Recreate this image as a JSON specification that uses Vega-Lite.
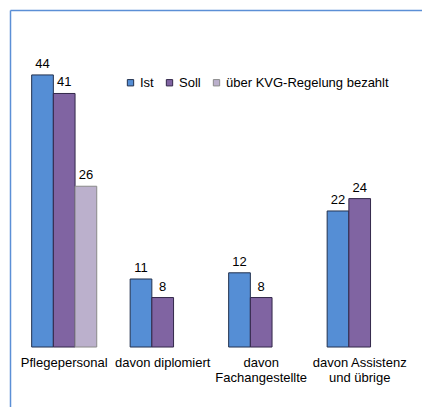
{
  "$schema": "https://vega.github.io/schema/vega-lite/v6.json",
  "autosize": "none",
  "width": 412,
  "height": 397,
  "padding": {"left": 10, "top": 10, "right": 0, "bottom": 0},
  "background": "white",
  "config": {
    "view": {"stroke": null},
    "font": "Liberation Sans",
    "text": {"font": "Liberation Sans", "fontSize": 13, "color": "black"}
  },
  "data": {
    "values": [
      {"category": "Pflegepersonal", "series": "Ist", "value": 44},
      {"category": "Pflegepersonal", "series": "Soll", "value": 41},
      {"category": "Pflegepersonal", "series": "über KVG-Regelung bezahlt", "value": 26},
      {"category": "davon diplomiert", "series": "Ist", "value": 11},
      {"category": "davon diplomiert", "series": "Soll", "value": 8},
      {"category": "davon\nFachangestellte", "series": "Ist", "value": 12},
      {"category": "davon\nFachangestellte", "series": "Soll", "value": 8},
      {"category": "davon Assistenz\nund übrige", "series": "Ist", "value": 22},
      {"category": "davon Assistenz\nund übrige", "series": "Soll", "value": 24}
    ]
  },
  "encoding": {
    "x": {
      "field": "category",
      "type": "nominal",
      "sort": null,
      "scale": {"paddingInner": 0, "paddingOuter": 0.0914, "align": 0.275},
      "axis": {"orient": "top", "domainColor": "#5b8fd6", "domainWidth": 1.5, "ticks": false, "labels": false, "title": null, "grid": false}
    }
  },
  "layer": [
    {
      "mark": {"type": "bar", "strokeWidth": 1},
      "encoding": {
        "xOffset": {
          "field": "series",
          "type": "nominal",
          "scale": {"domain": ["Ist", "Soll", "über KVG-Regelung bezahlt"], "paddingInner": 0, "paddingOuter": 0.77}
        },
        "y": {
          "field": "value",
          "type": "quantitative",
          "scale": {"domain": [-9.7, 54.5], "nice": false, "zero": false},
          "axis": {"orient": "left", "domainColor": "#5b8fd6", "domainWidth": 1.5, "ticks": false, "labels": false, "title": null, "grid": false}
        },
        "y2": {"datum": 0},
        "fill": {
          "field": "series",
          "type": "nominal",
          "scale": {"domain": ["Ist", "Soll", "über KVG-Regelung bezahlt"], "range": ["#558ed5", "#8064a2", "#bbb0cc"]},
          "legend": {
            "orient": "none",
            "direction": "horizontal",
            "legendX": 114,
            "legendY": 66,
            "title": null,
            "padding": 0,
            "symbolType": "square",
            "symbolSize": 40,
            "symbolStrokeWidth": 1,
            "labelFont": "Liberation Sans",
            "labelFontSize": 13,
            "labelColor": "black",
            "labelOffset": 3,
            "columnPadding": 9,
            "labelLimit": 300
          }
        },
        "stroke": {
          "field": "series",
          "type": "nominal",
          "scale": {"domain": ["Ist", "Soll", "über KVG-Regelung bezahlt"], "range": ["#22314f", "#33284a", "#8a8a8a"]}
        }
      }
    },
    {
      "mark": {"type": "text", "baseline": "alphabetic", "dy": -7},
      "encoding": {
        "xOffset": {"field": "series", "type": "nominal"},
        "y": {"field": "value", "type": "quantitative"},
        "text": {"field": "value", "type": "quantitative"}
      }
    },
    {
      "transform": [{"aggregate": [{"op": "count", "as": "n"}], "groupby": ["category"]}],
      "mark": {"type": "text", "baseline": "top", "lineBreak": "\n", "lineHeight": 15},
      "encoding": {
        "y": {"datum": -1.6},
        "text": {"field": "category", "type": "nominal"}
      }
    }
  ]
}
